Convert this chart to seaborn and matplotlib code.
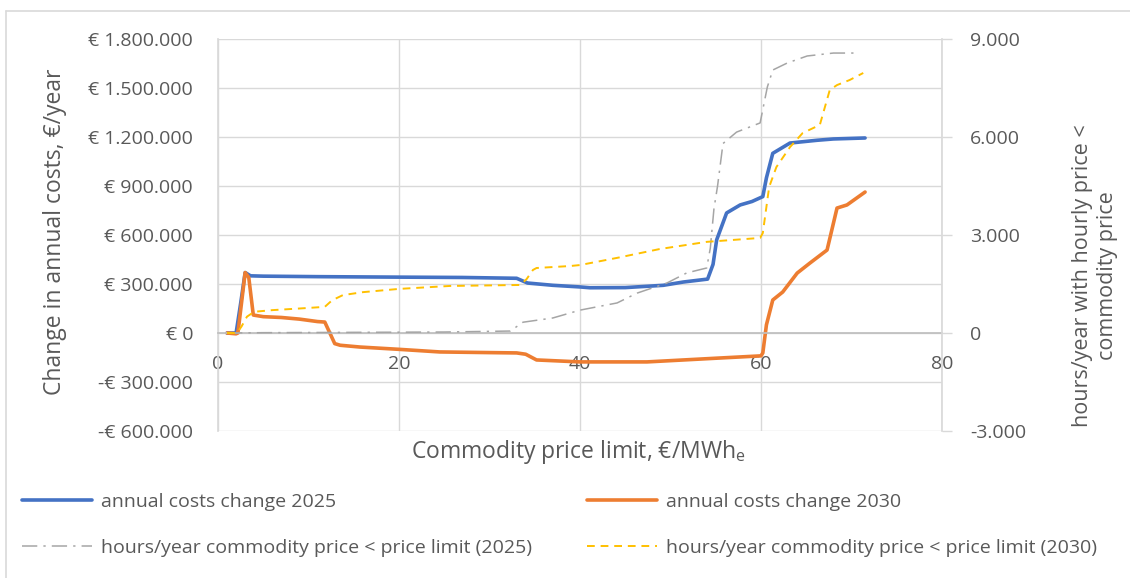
import matplotlib
matplotlib.use('Agg')
import matplotlib.pyplot as plt
import seaborn as sns
from matplotlib.ticker import FuncFormatter, MultipleLocator
from matplotlib.lines import Line2D

# ========= data =========
cost25_x = [1.0, 2.0, 2.5, 3.0, 3.6, 5, 11, 20, 27, 33, 34.2, 37, 40, 41.1, 45, 49.2, 51.4,
            54.1, 54.7, 55.1, 56.2, 57.7, 59, 60.2, 60.6, 61.3, 63.2, 66.2, 68, 71.5]
cost25_y = [0, 0, 180000, 370000, 350000, 348000, 345000, 342000, 340000, 335000, 306000,
            292000, 282000, 277000, 278000, 292000, 312000, 330000, 420000, 570000, 735000,
            784000, 805000, 835000, 950000, 1100000, 1163000, 1180000, 1188000, 1194000]

cost30_x = [1.0, 2.0, 2.2, 3.0, 3.4, 3.9, 5, 7, 9, 11, 11.8, 12.9, 13.5, 15.7, 20, 24.5, 30,
            33, 34, 35.2, 40, 47.4, 55.5, 60.0, 60.2, 60.6, 61.3, 62.4, 64, 65.4, 67.3,
            68.4, 69.5, 71.5]
cost30_y = [0, -5000, 0, 370000, 340000, 110000, 100000, 95000, 85000, 70000, 67000, -65000,
            -75000, -86000, -100000, -116000, -120000, -122000, -130000, -165000, -177000,
            -177000, -153000, -140000, -122000, 50000, 202000, 251000, 367000, 428000,
            508000, 765000, 784000, 863000]

hours25_x = [1, 5, 15, 25, 32.3, 33.7, 37, 40, 44.1, 46.3, 49.6, 51.8, 54, 54.4, 54.8, 55.2,
             55.8, 57.3, 59.9, 60.7, 61.3, 62.9, 65.1, 68, 70.7]
hours25_y = [0, 10, 20, 30, 60, 330, 460, 700, 920, 1220, 1530, 1840, 1990, 2600, 3800, 4500,
             5800, 6150, 6430, 7530, 8050, 8265, 8480, 8570, 8570]

hours30_x = [1, 2.1, 2.6, 3.2, 4, 6, 9, 11.8, 12.6, 13.8, 16, 20, 25.6, 33.4, 34.1, 34.8, 35.2,
             38.9, 40, 44.1, 48.8, 54, 59.9, 60.2, 60.9, 61.7, 63.2, 64.6, 66.5, 67.6, 68.4,
             69.8, 71.3]
hours30_y = [0, 0, 200, 500, 650, 700, 750, 800, 1000, 1160, 1250, 1350, 1440, 1470, 1650,
             1930, 1990, 2050, 2080, 2300, 2570, 2790, 2910, 3060, 4470, 5080, 5690, 6120,
             6370, 7440, 7590, 7745, 7960]

labels = ['annual costs change 2025', 'annual costs change 2030',
          'hours/year commodity price < price limit (2025)',
          'hours/year commodity price < price limit (2030)']

# =========== style =================
sns.set_theme(style='white')
plt.rcParams['font.family'] = ['Open Sans', 'DejaVu Sans']
txt = '#595959'
grid_c = '#D9D9D9'

W, H = 1130, 578
fig = plt.figure(figsize=(W / 100, H / 100), dpi=100)
ax = fig.add_axes([218 / W, 1 - 431 / H, (942 - 218) / W, (431 - 39) / H])
ax2 = ax.twinx()

# =========== lines =================
sns.lineplot(x=cost25_x, y=cost25_y, ax=ax, color='#4472C4', lw=2.6)
sns.lineplot(x=cost30_x, y=cost30_y, ax=ax, color='#ED7D31', lw=2.6)
sns.lineplot(x=hours25_x, y=hours25_y, ax=ax2, color='#A5A5A5', lw=1.1,
             linestyle=(0, (10, 4, 1.5, 4)))
sns.lineplot(x=hours30_x, y=hours30_y, ax=ax2, color='#FFC000', lw=1.4,
             linestyle=(0, (4, 3)))

# =========== axes ==================
ax.set_xlim(0, 80)
ax.set_ylim(-600000, 1800000)
ax2.set_ylim(-3000, 9000)
ax.xaxis.set_major_locator(MultipleLocator(20))
ax.yaxis.set_major_locator(MultipleLocator(300000))
ax2.yaxis.set_major_locator(MultipleLocator(3000))


def eur(v, pos):
    s = f'{abs(v):,.0f}'.replace(',', '.')
    return f'-€ {s}' if v < 0 else f'€ {s}'


ax.yaxis.set_major_formatter(FuncFormatter(eur))
ax2.yaxis.set_major_formatter(FuncFormatter(lambda v, p: f'{v:,.0f}'.replace(',', '.')))

ax.grid(True, color=grid_c, lw=1.0)
ax.set_axisbelow(True)
for s in ['top', 'right']:
    ax.spines[s].set_visible(False)
for s in ['top', 'left', 'bottom']:
    ax2.spines[s].set_visible(False)
ax.spines['left'].set_color(grid_c)
ax.spines['bottom'].set_position(('data', 0))
ax.spines['bottom'].set_color('#BFBFBF')
ax2.spines['right'].set_color(grid_c)

ax.tick_params(axis='y', length=0, pad=18, labelsize=14, labelcolor=txt)
ax.tick_params(axis='x', length=0, pad=16, labelsize=14, labelcolor=txt)
ax2.tick_params(axis='y', length=7, width=1, color=grid_c, pad=13, labelsize=14,
                labelcolor=txt, direction='out')
ax.set_xlabel('')
ax.set_ylabel('')
ax2.set_ylabel('')

fig.text(55 / W, 1 - 232 / H, 'Change in annual costs, €/year', rotation=90,
         ha='center', va='center', fontsize=16.5, color=txt)
fig.text(1095 / W, 1 - 276 / H, 'hours/year with hourly price <\ncommodity price',
         rotation=90, ha='center', va='center', fontsize=15.5, color=txt,
         multialignment='center', linespacing=1.2)
fig.text(578 / W, 1 - 452 / H, r'Commodity price limit, €/MWh$_\mathregular{e}$',
         ha='center', va='center', fontsize=16.5, color=txt)

# =========== legend ================
h = [Line2D([], [], color='#4472C4', lw=2.6),
     Line2D([], [], color='#ED7D31', lw=2.6),
     Line2D([], [], color='#A5A5A5', lw=1.1, linestyle=(0, (10, 4, 1.5, 4))),
     Line2D([], [], color='#FFC000', lw=1.4, linestyle=(0, (4, 3)))]
leg_kw = dict(frameon=False, fontsize=14, labelcolor=txt, handlelength=3.6,
              handletextpad=0.45, labelspacing=1.45, loc='upper left', borderaxespad=0,
              borderpad=0)
fig.legend([h[0], h[2]], [labels[0], labels[2]], bbox_to_anchor=(22 / W, 1 - 493 / H), **leg_kw)
fig.legend([h[1], h[3]], [labels[1], labels[3]], bbox_to_anchor=(587 / W, 1 - 493 / H), **leg_kw)

# chart area border
fig.add_artist(Line2D([6 / W, 6 / W], [0, 1 - 11 / H], color='#D9D9D9', lw=1.2))
fig.add_artist(Line2D([6 / W, 1], [1 - 11 / H, 1 - 11 / H], color='#D9D9D9', lw=1.2))

fig.savefig('out.png', dpi=100)
